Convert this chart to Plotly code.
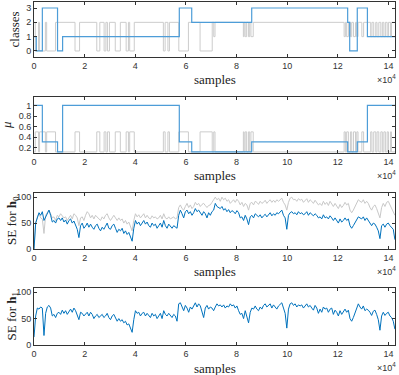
import numpy as np
import plotly.graph_objects as go

# ---- data ----
# estimated class / mu, as step changes (sample index in 1e4, value)
class_est_t = [0, 0.09, 0.33, 0.93, 1.13, 5.74, 6.23, 8.60, 12.39, 12.47, 12.77, 13.17, 14.26]
class_est_v = [1, 0, 3, 0, 1, 3, 2, 3, 2, 0, 3, 1, 1]

mu_est_t = [0, 0.33, 0.93, 1.13, 5.74, 6.23, 8.60, 12.39, 12.77, 13.17, 14.26]
mu_est_v = [1, 0.31, 0.12, 1, 0.31, 0.12, 0.31, 0.12, 0.31, 1, 1]

# true class (grey), step changes
class_true_t = [0, 0.05, 0.18, 0.22, 0.45, 0.50, 0.85, 1.62, 1.80, 2.48,
                2.60, 2.77, 2.84, 2.90, 2.98, 3.21, 3.41, 3.64, 3.73, 3.78,
                3.96, 5.11, 5.18, 5.29, 5.35, 5.72, 6.10, 6.56, 7.04, 7.10,
                7.15, 8.27, 8.30, 8.34, 8.40, 8.47, 8.52, 8.57, 8.66, 12.25,
                12.30, 12.35, 12.42, 12.50, 12.55, 12.62, 12.70, 12.75, 12.80, 12.95,
                13.02, 13.30, 13.35, 13.42, 13.50, 13.55, 13.62, 13.70, 13.76, 13.82,
                13.88, 13.95, 14.00, 14.08, 14.12, 14.26]
class_true_v = [2, 0, 2, 0, 2, 0, 2, 0, 2, 0,
                2, 0, 2, 0, 2, 0, 2, 0, 2, 0,
                2, 0, 2, 0, 2, 0, 2, 0, 2, 1,
                2, 1, 2, 1, 2, 1, 2, 1, 2, 1,
                2, 1, 2, 1, 2, 1, 2, 1, 2, 1,
                2, 1, 2, 1, 2, 1, 2, 1, 2, 1,
                2, 1, 2, 1, 2, 2]
mu_of_class = {0: 0.5, 1: 0.5, 2: 0.12}

# squared error traces, one value every 657 samples
step = 657
se_h0 = [0, 50, 60, 70, 65, 72, 55, 62, 70, 75,
         65, 52, 55, 50, 58, 60, 55, 60, 52, 56,
         48, 55, 58, 50, 54, 45, 38, 22, 45, 50,
         40, 44, 50, 42, 48, 42, 38, 45, 48, 40,
         35, 42, 38, 44, 50, 40, 38, 45, 48, 40,
         32, 38, 35, 40, 30, 35, 28, 32, 25, 15,
         40, 55, 48, 52, 45, 50, 55, 48, 52, 45,
         42, 50, 45, 48, 40, 45, 50, 42, 55, 45,
         40, 48, 44, 40, 45, 42, 40, 65, 75, 68,
         60, 72, 75, 68, 72, 65, 70, 78, 72, 75,
         70, 65, 72, 68, 60, 70, 65, 72, 75, 88,
         82, 80, 78, 82, 75, 78, 72, 76, 70, 74,
         72, 68, 74, 70, 60, 62, 55, 65, 58, 47,
         62, 65, 60, 68, 65, 62, 66, 60, 64, 67,
         62, 66, 70, 64, 68, 65, 70, 68, 72, 75,
         65, 60, 38, 65, 70, 72, 68, 70, 66, 72,
         68, 70, 66, 68, 72, 65, 70, 66, 64, 68,
         65, 60, 62, 58, 66, 60, 62, 58, 64, 60,
         55, 60, 55, 50, 58, 52, 55, 60, 55, 58,
         45, 40, 45, 50, 55, 62, 60, 58, 62, 55,
         60, 55, 50, 45, 50, 48, 42, 35, 20, 45,
         48, 42, 48, 50, 45, 42, 38, 18]
se_h0_ref = [0, 50, 62, 68, 60, 58, 30, 65, 70, 75,
             68, 60, 62, 55, 65, 62, 68, 65, 60, 62,
             55, 60, 65, 58, 68, 65, 60, 45, 60, 62,
             55, 65, 72, 68, 60, 65, 58, 65, 62, 58,
             55, 62, 58, 65, 68, 60, 55, 60, 65, 60,
             55, 60, 55, 58, 50, 55, 48, 52, 45, 35,
             55, 68, 62, 66, 60, 64, 68, 60, 65, 60,
             58, 64, 60, 62, 58, 60, 65, 58, 68, 60,
             58, 62, 58, 60, 62, 58, 60, 80, 85, 78,
             75, 82, 88, 80, 85, 78, 82, 90, 85, 88,
             82, 86, 88, 84, 80, 84, 85, 90, 95, 100,
             95, 98, 92, 100, 95, 98, 92, 95, 88, 92,
             95, 90, 96, 92, 85, 90, 82, 88, 85, 75,
             88, 90, 85, 92, 90, 86, 92, 88, 90, 94,
             88, 92, 95, 90, 94, 90, 95, 92, 96, 98,
             90, 85, 75, 90, 98, 100, 95, 96, 92, 97,
             94, 96, 90, 94, 97, 90, 95, 92, 88, 94,
             90, 85, 88, 84, 92, 86, 90, 84, 92, 88,
             82, 88, 84, 78, 86, 80, 84, 90, 85, 88,
             75, 70, 75, 82, 88, 95, 92, 90, 95, 88,
             92, 88, 80, 75, 82, 85, 78, 70, 60, 80,
             88, 82, 90, 92, 85, 80, 72, 65]
se_h1 = [15, 55, 70, 68, 72, 70, 18, 60, 72, 75,
         70, 55, 58, 52, 60, 62, 58, 66, 60, 65,
         58, 62, 68, 62, 70, 65, 55, 48, 62, 60,
         55, 58, 62, 55, 62, 58, 50, 55, 58, 52,
         55, 58, 52, 55, 60, 52, 48, 55, 58, 50,
         45, 50, 45, 48, 42, 45, 38, 40, 32, 24,
         48, 65, 60, 62, 55, 60, 62, 55, 60, 55,
         52, 60, 55, 58, 50, 55, 60, 50, 65, 58,
         55, 60, 55, 52, 58, 55, 45, 78, 80, 72,
         65, 75, 70, 62, 72, 68, 75, 80, 72, 78,
         74, 60, 52, 70, 75, 68, 72, 70, 65, 72,
         78, 74, 76, 72, 76, 70, 74, 72, 78, 74,
         76, 70, 74, 65, 58, 60, 50, 65, 55, 42,
         62, 70, 68, 74, 68, 65, 72, 68, 75, 78,
         72, 75, 78, 70, 76, 72, 68, 74, 78, 80,
         70, 60, 32, 68, 78, 80, 75, 78, 72, 76,
         74, 76, 70, 74, 78, 72, 75, 70, 66, 75,
         70, 60, 68, 62, 72, 68, 70, 62, 68, 70,
         58, 66, 62, 55, 65, 58, 62, 68, 62, 66,
         50, 45, 52, 62, 70, 78, 72, 68, 74, 65,
         68, 66, 62, 56, 64, 66, 58, 48, 28, 55,
         62, 56, 60, 62, 55, 52, 45, 30]

x_ticks = [0, 2, 4, 6, 8, 10, 12, 14]

# ---- figure ----
BLUE = '#0072BD'
STEP_BLUE = '#4d9dd8'
GREY = '#cccccc'
AXC = '#333333'
SERIF = 'Liberation Serif, DejaVu Serif, serif'
SANS = 'Liberation Sans, Arial, sans-serif'

e4 = lambda t: [v * 1e4 for v in t]
se_x = np.arange(len(se_h0)) * step

fig = go.Figure()
# panel 1: classes
fig.add_trace(go.Scatter(x=e4(class_true_t), y=class_true_v, mode='lines', line_shape='hv',
                         line=dict(color=GREY, width=1), xaxis='x', yaxis='y'))
fig.add_trace(go.Scatter(x=e4(class_est_t), y=class_est_v, mode='lines', line_shape='hv',
                         line=dict(color=STEP_BLUE, width=1.2), xaxis='x', yaxis='y'))
# panel 2: mu
fig.add_trace(go.Scatter(x=e4(class_true_t), y=[mu_of_class[c] for c in class_true_v],
                         mode='lines', line_shape='hv',
                         line=dict(color=GREY, width=1), xaxis='x2', yaxis='y2'))
fig.add_trace(go.Scatter(x=e4(mu_est_t), y=mu_est_v, mode='lines', line_shape='hv',
                         line=dict(color=STEP_BLUE, width=1.2), xaxis='x2', yaxis='y2'))
# panel 3: SE h0
fig.add_trace(go.Scatter(x=se_x, y=se_h0_ref, mode='lines',
                         line=dict(color='#c8c8c8', width=1), xaxis='x3', yaxis='y3'))
fig.add_trace(go.Scatter(x=se_x, y=se_h0, mode='lines',
                         line=dict(color=BLUE, width=1), xaxis='x3', yaxis='y3'))
# panel 4: SE h1
fig.add_trace(go.Scatter(x=se_x, y=se_h1, mode='lines',
                         line=dict(color=BLUE, width=1), xaxis='x4', yaxis='y4'))

# domains in paper units (plot area spans y=2..345 px)
doms = [[0.8397, 1.0], [0.5598, 0.7230], [0.2799, 0.4431], [0.0, 0.1662]]
yranges = [[-0.42, 3.42], [0.1, 1.16], [0, 108], [0, 108]]
ytickv = [[0, 1, 2, 3], [0.2, 0.4, 0.6, 0.8, 1], [0, 50, 100], [0, 50, 100]]
ytickt = [['0', '1', '2', '3'], ['0.2', '0.4', '0.6', '0.8', '1'],
          ['0', '50', '100'], ['0', '50', '100']]
ylabels = ['classes', '<i>μ</i>', 'SE for <b>h</b><sub>0</sub>', 'SE for <b>h</b><sub>1</sub>']
ylab_shift = [-20, -27, -22, -22]

common = dict(showline=True, linecolor=AXC, linewidth=1, mirror='ticks',
              ticks='inside', ticklen=3, tickwidth=1, tickcolor=AXC,
              showgrid=False, zeroline=False,
              tickfont=dict(family=SANS, size=9, color='#333333'))

layout = dict(width=399, height=375, showlegend=False,
              paper_bgcolor='white', plot_bgcolor='white',
              margin=dict(l=34, r=4, t=2, b=30))
annotations = []
for i in range(4):
    k = '' if i == 0 else str(i + 1)
    layout['xaxis' + k] = dict(common, domain=[0, 1], anchor='y' + k,
                               range=[0, 142600],
                               tickvals=[v * 1e4 for v in x_ticks],
                               ticktext=[str(v) for v in x_ticks])
    layout['yaxis' + k] = dict(common, domain=doms[i], anchor='x' + k,
                               range=yranges[i], tickvals=ytickv[i], ticktext=ytickt[i])
    annotations.append(dict(text='samples', xref='paper', yref='paper', x=0.5,
                            y=doms[i][0], yshift=-23, yanchor='middle', showarrow=False,
                            font=dict(family=SERIF, size=13, color='#222222')))
    annotations.append(dict(text='×10<sup>4</sup>', xref='paper', yref='paper', x=1,
                            xanchor='right', xshift=3, y=doms[i][0], yshift=-22,
                            yanchor='middle', showarrow=False,
                            font=dict(family=SANS, size=9, color='#333333')))
    annotations.append(dict(text=ylabels[i], xref='paper', yref='paper', x=0,
                            xshift=ylab_shift[i], xanchor='center',
                            y=sum(doms[i]) / 2, yanchor='middle', textangle=-90,
                            showarrow=False,
                            font=dict(family=SERIF, size=13, color='#222222')))
layout['annotations'] = annotations
fig.update_layout(**layout)

# drop the default page margin so the figure sits at the window corner
fig.write_html("out.html", config={'displayModeBar': False},
               post_script="document.body.style.margin='0';")
